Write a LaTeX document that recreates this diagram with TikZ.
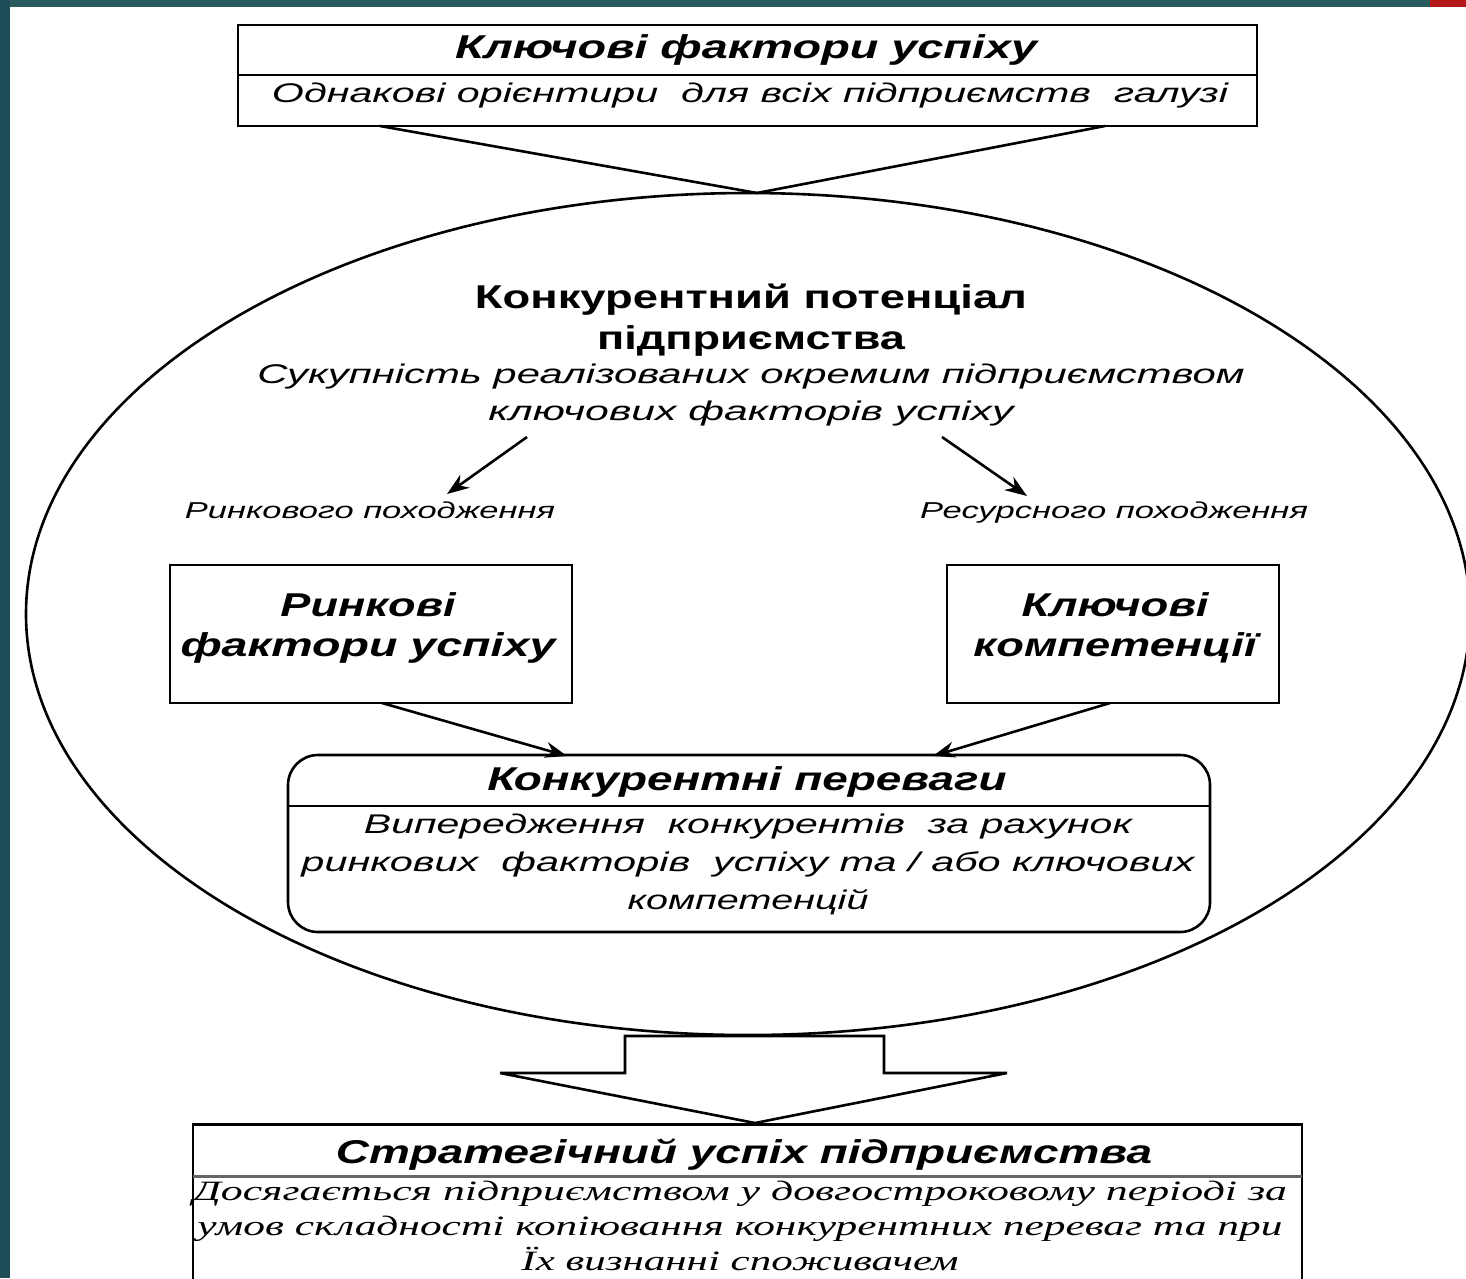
\documentclass[tikz,border=0pt]{standalone}
\usepackage{fontspec}
\setmainfont{Liberation Sans}
\newfontfamily\serifit{Liberation Serif}
\usepackage{graphicx}
\usetikzlibrary{arrows.meta}
\definecolor{tealA}{RGB}{31,78,88}
\definecolor{tealB}{RGB}{40,92,94}
\definecolor{redC}{RGB}{178,24,26}
\newcommand\fw[2]{\resizebox{#1pt}{\height}{#2}}
\tikzset{
  boxs/.style={draw, line width=2.6pt, rectangle, inner sep=0pt, fill=white},
  ttl/.style={font=\fontsize{33}{40}\selectfont\bfseries\itshape, align=center, inner sep=0pt},
  ttlup/.style={font=\fontsize{33}{41}\selectfont\bfseries, align=center, inner sep=0pt},
  subt/.style={font=\fontsize{27}{38}\selectfont\itshape, align=center, inner sep=0pt},
  lbl/.style={font=\fontsize{23}{26}\selectfont\itshape, inner sep=0pt},
  sert/.style={font=\fontsize{28}{35}\selectfont\serifit\itshape, align=center, inner sep=0pt},
  ln/.style={line width=2.6pt},
  arr/.style={line width=2.6pt, -{Stealth[length=22pt,width=16pt]}}
}
\begin{document}
\begin{tikzpicture}[x=1pt,y=-1pt]
\useasboundingbox (0,0) rectangle (1466,1278);
\clip (0,0) rectangle (1466,1278);
% slide background
\fill[tealA] (0,0) rectangle (1466,1278);
\fill[tealB] (10,0) rectangle (1430,7);
\fill[redC] (1430,0) rectangle (1466,7);
\fill[white] (10,7) rectangle (1466,1278);

% big ellipse
\draw[ln] (748,614) ellipse [x radius=722, y radius=421];
\coordinate (etop) at (757,193);

% top box
\node[boxs, minimum width=1019pt, minimum height=101pt] (kfs) at (747.5,75.5) {};
\draw[ln] (238,75) -- (1257,75);
\node[ttl] (kfsT) at (746,50) {\fw{582}{Ключові фактори успіху}};
\node[subt] (kfsS) at (750,96) {\fw{956}{Однакові орієнтири \ для всіх підприємств \ галузі}};
\coordinate (v1) at (380,126);
\coordinate (v2) at (1105,126);
\draw[ln] (v1) -- (etop) -- (v2);

% ellipse texts
\node[ttlup] (kp) at (751,320) {\fw{552}{Конкурентний потенціал}\\\fw{308}{підприємства}};
\node[subt] (kps) at (751,395) {\fw{987}{Сукупність реалізованих окремим підприємством}\\\fw{525}{ключових факторів успіху}};

% origin labels
\node[lbl] (rl) at (370,510) {\fw{370}{Ринкового походження}};
\node[lbl] (rr) at (1114,513) {\fw{388}{Ресурсного походження}};
\coordinate (a1s) at (527,437);
\coordinate (a1e) at (447,494);
\coordinate (a2s) at (942,437);
\coordinate (a2e) at (1027,496);
\draw[arr] (a1s) -- (a1e);
\draw[arr] (a2s) -- (a2e);

% left / right boxes
\node[boxs, minimum width=402pt, minimum height=138pt] (lb) at (371,634) {};
\node[ttl] (lbT) at (368,628) {\fw{175}{Ринкові}\\\fw{375}{фактори успіху}};
\node[boxs, minimum width=332pt, minimum height=138pt] (rb) at (1113,634) {};
\node[ttl] (rbT) at (1115,628) {\fw{187}{Ключові}\\\fw{283}{компетенції}};

% rounded box
\node[boxs, rounded corners=30pt, minimum width=922pt, minimum height=177pt] (kpv) at (749,843.5) {};
\draw[ln] (288,806) -- (1210,806);
\node[ttl] (kpvT) at (747,782) {\fw{519}{Конкурентні переваги}};
\node[subt] (kpvS) at (748,864) {\fw{768}{Випередження \ конкурентів \ за рахунок}\\\fw{893}{ринкових \ факторів \ успіху та / або ключових}\\\fw{241}{компетенцій}};
\coordinate (b1s) at (382,703);
\coordinate (b1e) at (567,756);
\coordinate (b2s) at (1110,703);
\coordinate (b2e) at (933,756);
\draw[arr] (b1s) -- (b1e);
\draw[arr] (b2s) -- (b2e);

% block arrow
\coordinate (tip) at (755,1123);
\draw[ln, fill=white, line join=miter] (625,1036) -- (625,1073) -- (500,1073) -- (tip) -- (1007,1073) -- (884,1073) -- (884,1036) -- cycle;

% bottom box
\node[boxs, minimum width=1109pt, minimum height=180pt, anchor=north] (su) at (747.5,1123) {};
\draw[line width=3pt, black!60] (193,1176) -- (1302,1176);
\node[ttl] (suT) at (744,1155) {\fw{816}{Стратегічний успіх підприємства}};
\node[sert] (suS) at (740,1226) {\fw{1094}{Досягається підприємством у довгостроковому періоді за}\\\fw{1085}{умов складності копіювання конкурентних переваг та при}\\\fw{437}{Їх визнанні споживачем}};
\end{tikzpicture}
\end{document}
